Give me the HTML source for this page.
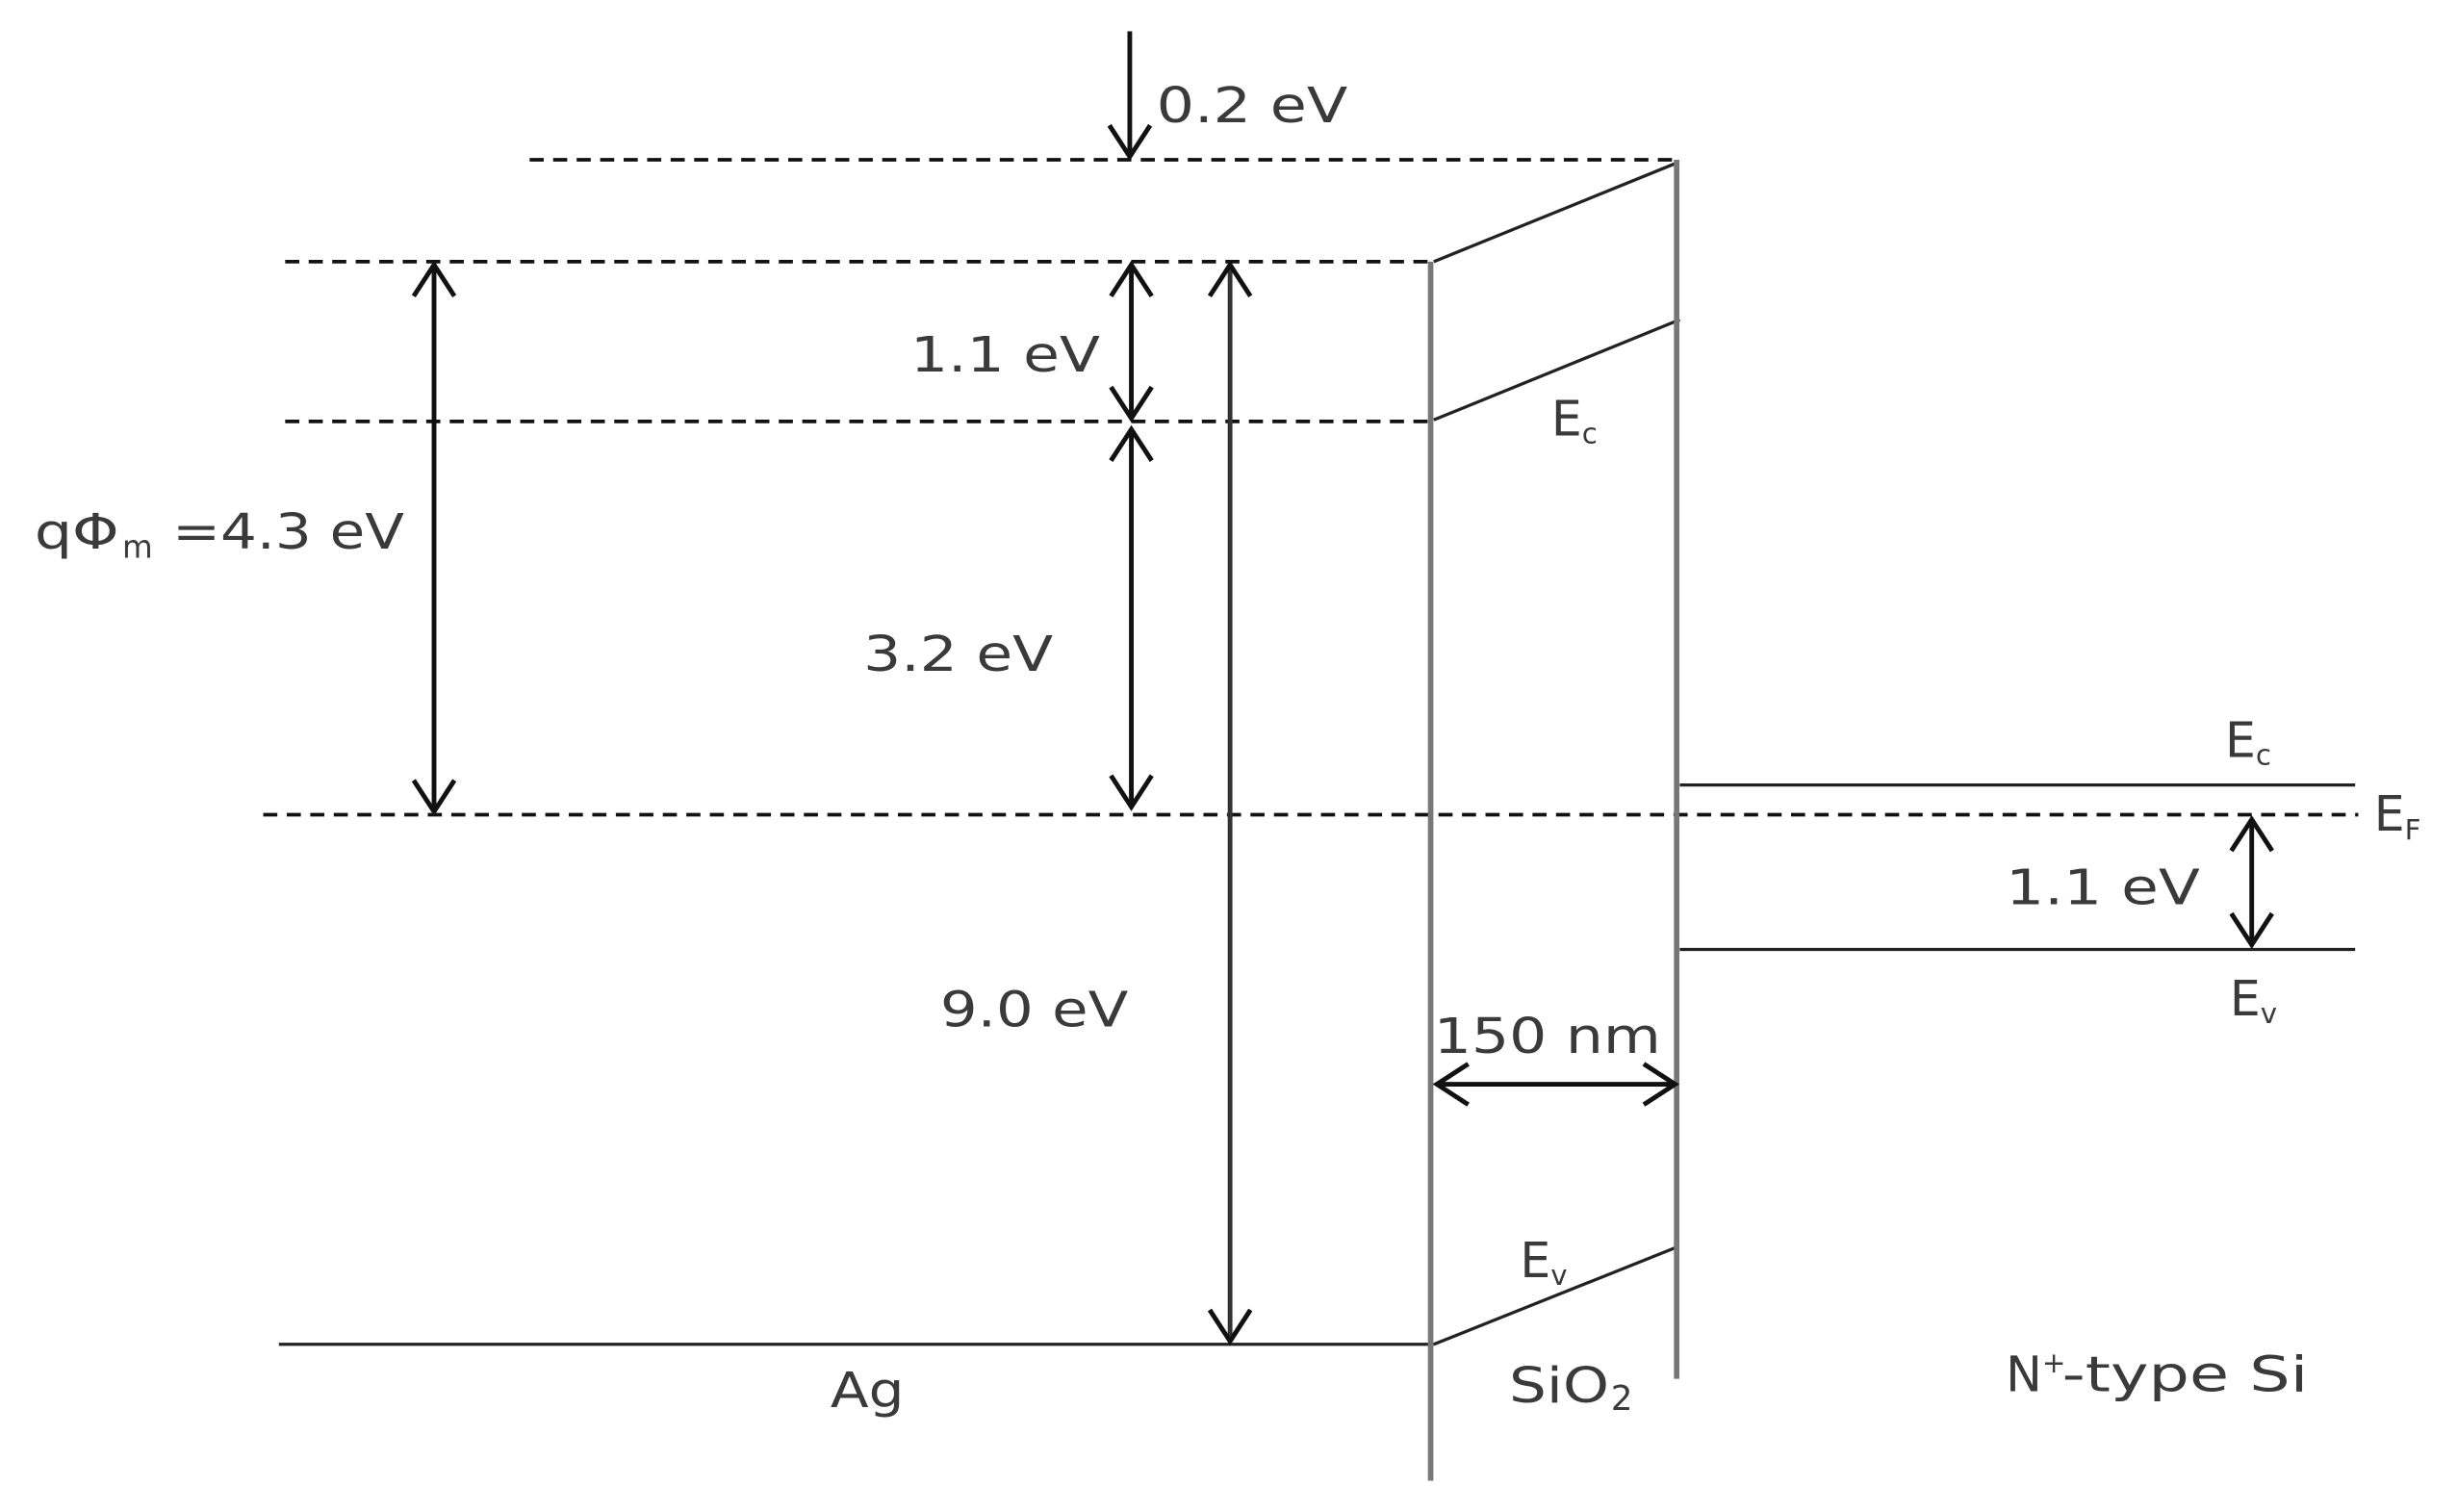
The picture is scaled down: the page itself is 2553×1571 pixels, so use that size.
<!DOCTYPE html>
<html><head><meta charset="utf-8"><style>
html,body{margin:0;padding:0;background:#fff;}
svg{display:block;}
text{font-family:"DejaVu Sans","Liberation Sans",sans-serif;font-size:31px;fill:#3a3a3a;}
</style></head><body>
<svg width="2553" height="1571" viewBox="0 0 1568 965" preserveAspectRatio="none" xmlns="http://www.w3.org/2000/svg">
<g stroke="#111" stroke-width="2.3" stroke-dasharray="9,6" fill="none">
<line x1="338" y1="102" x2="1070" y2="102"/>
<line x1="182" y1="167" x2="915" y2="167"/>
<line x1="182" y1="269" x2="915" y2="269"/>
<line x1="168" y1="520" x2="1505" y2="520"/>
</g>
<g stroke="#222" stroke-width="2" fill="none">
<line x1="915" y1="167" x2="1070" y2="104"/>
<line x1="915" y1="268" x2="1072" y2="204"/>
<line x1="915" y1="858" x2="1070" y2="796"/>
<line x1="178" y1="858" x2="915" y2="858"/>
<line x1="1072" y1="501" x2="1503" y2="501"/>
<line x1="1072" y1="606" x2="1503" y2="606"/>
</g>
<g stroke="#777" stroke-width="3.5">
<line x1="913" y1="167" x2="913" y2="945"/>
<line x1="1070" y1="102" x2="1070" y2="880"/>
</g>
<g stroke="#111" stroke-width="3" fill="none">
<line x1="721" y1="20" x2="721" y2="100"/><polyline points="708,80 721,100 734,80"/>
<line x1="277" y1="169" x2="277" y2="518"/><polyline points="264,189 277,169 290,189"/><polyline points="264,498 277,518 290,498"/>
<line x1="722" y1="169" x2="722" y2="267"/><polyline points="709,189 722,169 735,189"/><polyline points="709,247 722,267 735,247"/>
<line x1="722" y1="274" x2="722" y2="515"/><polyline points="709,294 722,274 735,294"/><polyline points="709,495 722,515 735,495"/>
<line x1="785" y1="169" x2="785" y2="856" stroke="#333"/><polyline points="772,189 785,169 798,189"/><polyline points="772,836 785,856 798,836"/>
<line x1="1437" y1="523" x2="1437" y2="603"/><polyline points="1424,543 1437,523 1450,543"/><polyline points="1424,583 1437,603 1450,583"/>
<line x1="917" y1="692" x2="1069" y2="692"/><polyline points="937,679 917,692 937,705"/><polyline points="1049,679 1069,692 1049,705"/>
</g>
<text x="738" y="78" textLength="122" lengthAdjust="spacingAndGlyphs">0.2 eV</text>
<text x="581" y="237" textLength="121" lengthAdjust="spacingAndGlyphs">1.1 eV</text>
<text x="551" y="428" textLength="121" lengthAdjust="spacingAndGlyphs">3.2 eV</text>
<text x="22" y="350" textLength="54" lengthAdjust="spacingAndGlyphs">qΦ</text>
<text x="78" y="356" style="font-size:20px">m</text>
<text x="110" y="350" textLength="148" lengthAdjust="spacingAndGlyphs">=4.3 eV</text>
<text x="600" y="655" textLength="120" lengthAdjust="spacingAndGlyphs">9.0 eV</text>
<text x="990" y="278" fill="#666">E<tspan font-size="18" dy="5">c</tspan></text>
<text x="1420" y="483">E<tspan font-size="18" dy="5">c</tspan></text>
<text x="1515" y="530">E<tspan font-size="18" dy="6">F</tspan></text>
<text x="1280" y="577" textLength="124" lengthAdjust="spacingAndGlyphs">1.1 eV</text>
<text x="1423" y="648" fill="#666">E<tspan font-size="18" dy="5">v</tspan></text>
<text x="970" y="815" fill="#666">E<tspan font-size="18" dy="5">v</tspan></text>
<text x="915" y="672" textLength="145" lengthAdjust="spacingAndGlyphs">150 nm</text>
<text x="530" y="898" textLength="47" lengthAdjust="spacingAndGlyphs">Ag</text>
<text x="963" y="895" textLength="64" lengthAdjust="spacingAndGlyphs">SiO</text>
<text x="1028" y="900" style="font-size:22px">2</text>
<text x="1280" y="888">N<tspan font-size="18" dy="-12">+</tspan><tspan dy="12" x="1316" textLength="157" lengthAdjust="spacingAndGlyphs">-type Si</tspan></text>
</svg>
</body></html>
